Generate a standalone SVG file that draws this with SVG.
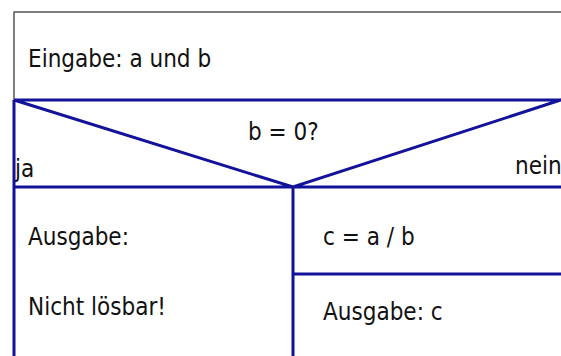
<svg xmlns="http://www.w3.org/2000/svg" width="561" height="356" viewBox="0 0 561 356">
<style>
.t{font-family:"DejaVu Sans Condensed","DejaVu Sans",sans-serif;font-size:24px;fill:#111}
.b{stroke:#12129a;stroke-width:3;fill:none}
.g{stroke:#555;stroke-width:1.5;fill:none}
</style>
<rect width="561" height="356" fill="#fff"/>
<g id="input">
<path class="g" d="M14 100 V12 H570"/>
<text class="t" x="28" y="67">Eingabe: a und b</text>
</g>
<g id="condition">
<path class="b" d="M14 100 H570 M14 187 H570 M14 100 L293 187 L570 97"/>
<text class="t" x="248" y="140">b = 0?</text>
<text class="t" x="15" y="177">ja</text>
<text class="t" x="515" y="174">nein</text>
</g>
<g id="yes-branch">
<path class="b" d="M14 100 V360 M293 187 V360"/>
<text class="t" x="28" y="245">Ausgabe:</text>
<text class="t" x="28" y="315">Nicht lösbar!</text>
</g>
<g id="no-compute">
<path class="b" d="M293 274 H570"/>
<text class="t" x="323" y="245">c = a / b</text>
</g>
<g id="no-output">
<text class="t" x="323" y="320">Ausgabe: c</text>
</g>
<g id="connectors"></g>
</svg>
